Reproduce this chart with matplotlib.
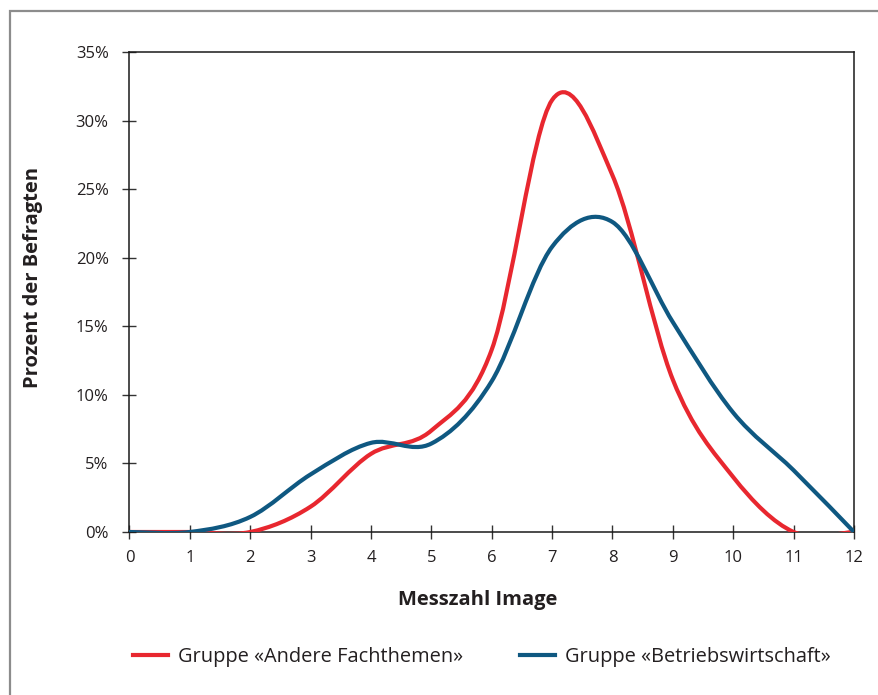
import numpy as np
import matplotlib
matplotlib.use("Agg")
import matplotlib.pyplot as plt
from matplotlib.path import Path
from matplotlib.patches import PathPatch, Rectangle
from matplotlib.lines import Line2D

# ---- data ----
x_vals = [0, 1, 2, 3, 4, 5, 6, 7, 8, 9, 10, 11, 12]
red_vals = [0, 0, 0, 1.85, 5.7, 7.4, 13.3, 31.5, 26.0, 11.1, 4.0, 0, 0]
blue_vals = [0, 0, 1.1, 4.2, 6.5, 6.45, 11.0, 20.8, 22.6, 15.3, 8.7, 4.5, 0]
series_names = ["Gruppe «Andere Fachthemen»", "Gruppe «Betriebswirtschaft»"]
y_ticks = [0, 5, 10, 15, 20, 25, 30, 35]
y_tick_labels = [f"{v}%" for v in y_ticks]

RED = "#E8272F"
BLUE = "#0F5881"
TXT = "#231F20"

plt.rcParams["font.family"] = ["Open Sans", "DejaVu Sans"]


def smooth_path(xs, ys):
    """Catmull-Rom style smoothed Bezier path through the data points."""
    xs = np.asarray(xs, float)
    ys = np.asarray(ys, float)
    n = len(xs)
    verts = [(xs[0], ys[0])]
    codes = [Path.MOVETO]
    for i in range(n - 1):
        i0 = max(i - 1, 0)
        i3 = min(i + 2, n - 1)
        c1 = (xs[i] + (xs[i + 1] - xs[i0]) / 6, ys[i] + (ys[i + 1] - ys[i0]) / 6)
        c2 = (xs[i + 1] - (xs[i3] - xs[i]) / 6, ys[i + 1] - (ys[i3] - ys[i]) / 6)
        verts += [c1, c2, (xs[i + 1], ys[i + 1])]
        codes += [Path.CURVE4] * 3
    return Path(verts, codes)


W, H = 879, 695
fig = plt.figure(figsize=(W / 100, H / 100), dpi=100)
fig.patch.set_facecolor("white")

# outer frame
fig.patches.append(Rectangle((10 / W, -0.05), 1.2, 1 - 11 / H + 0.05,
                             transform=fig.transFigure, fill=False,
                             edgecolor="#8C8C8C", lw=1.6, zorder=0))

left, right, top, bottom = 129.5 / W, 854 / W, 1 - 52 / H, 1 - 532 / H
ax = fig.add_axes([left, bottom, right - left, top - bottom])

ax.add_patch(PathPatch(smooth_path(x_vals, red_vals), fill=False,
                       edgecolor=RED, lw=3.0, capstyle="round", zorder=3))
ax.add_patch(PathPatch(smooth_path(x_vals, blue_vals), fill=False,
                       edgecolor=BLUE, lw=3.0, capstyle="round", zorder=4))

ax.set_xlim(0, 12)
ax.set_ylim(0, 35)
ax.set_xticks(x_vals)
ax.set_xticklabels([str(v) for v in x_vals])
ax.set_yticks(y_ticks)
ax.set_yticklabels(y_tick_labels)

for s in ax.spines.values():
    s.set_color("#1a1a1a")
    s.set_linewidth(1.1)
    s.set_zorder(2)

ax.tick_params(direction="inout", length=10, width=1.0, color="#333333",
               labelsize=12, labelcolor=TXT)
ax.tick_params(axis="y", pad=10)
ax.tick_params(axis="x", pad=8)

fig.text(33 / W, 1 - 277 / H, "Prozent der Befragten", rotation=90,
         ha="center", va="center", fontsize=14.5, fontweight="bold", color=TXT)
fig.text(478 / W, 1 - 600 / H, "Messzahl Image", ha="center", va="center",
         fontsize=14.5, fontweight="bold", color=TXT)

handles = [Line2D([], [], color=RED, lw=3.0), Line2D([], [], color=BLUE, lw=3.0)]
ax.legend(handles, series_names, loc="center left",
          bbox_to_anchor=(133 / W, 1 - 657 / H), bbox_transform=fig.transFigure,
          ncol=2, frameon=False, fontsize=14.4, borderpad=0, borderaxespad=0,
          handlelength=1.75, handletextpad=0.5, columnspacing=2.85,
          labelcolor=TXT)

fig.savefig("out.png", dpi=100, facecolor="white")
